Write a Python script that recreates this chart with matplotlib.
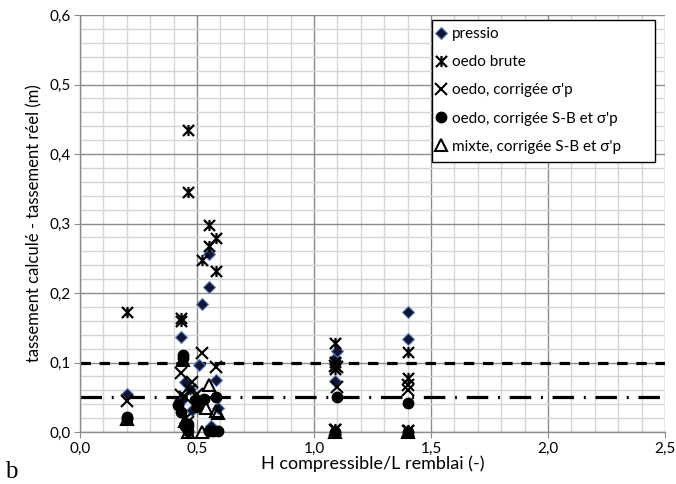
import matplotlib
matplotlib.use("Agg")
import matplotlib.pyplot as plt
from matplotlib.path import Path
from matplotlib.patches import Rectangle
from matplotlib.ticker import MultipleLocator, FuncFormatter

# ---- data ----
pressio_x = [0.20, 0.43, 0.43, 0.45, 0.47, 0.48, 0.51, 0.52, 0.55, 0.55, 0.58, 0.59, 0.56, 1.09, 1.10, 1.09, 1.09, 1.40, 1.40, 1.40]
pressio_y = [0.055, 0.136, 0.044, 0.072, 0.062, 0.032, 0.096, 0.184, 0.209, 0.256, 0.075, 0.034, 0.008, 0.106, 0.117, 0.074, 0.000, 0.172, 0.134, 0.000]

brute_x = [0.20, 0.43, 0.43, 0.46, 0.46, 0.52, 0.55, 0.55, 0.58, 0.58, 0.45, 1.09, 1.09, 1.09, 1.40, 1.40, 1.09, 1.40]
brute_y = [0.172, 0.164, 0.160, 0.435, 0.346, 0.247, 0.298, 0.268, 0.279, 0.232, 0.020, 0.128, 0.101, 0.091, 0.115, 0.077, 0.005, 0.003]

corr_x = [0.20, 0.43, 0.43, 0.52, 0.58, 0.48, 0.47, 0.45, 0.46, 0.50, 1.09, 1.10, 1.10, 1.40, 1.40, 1.09, 1.40]
corr_y = [0.044, 0.085, 0.053, 0.113, 0.094, 0.072, 0.060, 0.050, 0.015, 0.055, 0.095, 0.093, 0.065, 0.068, 0.061, 0.003, 0.002]

sb_x = [0.20, 0.20, 0.44, 0.44, 0.42, 0.43, 0.49, 0.50, 0.53, 0.58, 0.45, 0.46, 0.46, 0.55, 0.57, 0.59, 1.10, 1.40, 1.09, 1.40]
sb_y = [0.022, 0.019, 0.111, 0.106, 0.039, 0.029, 0.046, 0.036, 0.048, 0.050, 0.008, 0.002, 0.012, 0.001, 0.001, 0.002, 0.050, 0.042, 0.000, 0.000]

mixte_x = [0.20, 0.44, 0.55, 0.54, 0.58, 0.59, 0.45, 0.52, 1.09, 1.40, 0.46]
mixte_y = [0.018, 0.104, 0.068, 0.034, 0.030, 0.028, 0.016, 0.000, 0.000, 0.000, 0.000]

seuil_haut = 0.10
seuil_bas = 0.05

series_labels = ["pressio", "oedo brute", "oedo, corrigée σ'p",
                 "oedo, corrigée S-B et σ'p", "mixte, corrigée S-B et σ'p"]
x_label = "H compressible/L remblai (-)"
y_label = "tassement calculé - tassement réel (m)"

# ---- style ----
plt.rcParams['font.family'] = ['Lato', 'DejaVu Sans']
plt.rcParams['lines.scale_dashes'] = False

W, H = 676, 484
fig = plt.figure(figsize=(W/100, H/100), dpi=100)
ax = fig.add_axes([80/W, 1-432/H, (665-80)/W, (432-15)/H])

ax.set_xlim(0, 2.5)
ax.set_ylim(0, 0.6)
ax.xaxis.set_major_locator(MultipleLocator(0.5))
ax.xaxis.set_minor_locator(MultipleLocator(0.1))
ax.yaxis.set_major_locator(MultipleLocator(0.1))
ax.yaxis.set_minor_locator(MultipleLocator(0.02))
fmt = FuncFormatter(lambda v, p: f"{v:.1f}".replace('.', ','))
ax.xaxis.set_major_formatter(fmt)
ax.yaxis.set_major_formatter(fmt)

ax.grid(which='major', color='#8c8c8c', lw=1.0)
ax.grid(which='minor', color='#d4d4d4', lw=1.0)
ax.set_axisbelow(True)
for s in ['top', 'right']:
    ax.spines[s].set_visible(False)
for s in ['left', 'bottom']:
    ax.spines[s].set_color('#8c8c8c')
    ax.spines[s].set_linewidth(1.0)
ax.tick_params(which='major', length=4, color='#8c8c8c', labelsize=11, pad=3)
ax.tick_params(which='minor', length=0)

# threshold lines
ax.axhline(seuil_haut, color='black', lw=2.3, linestyle=(0, (7.5, 6.3)), zorder=2)
ax.axhline(seuil_bas, color='black', lw=2.3, linestyle=(0, (15.5, 7.0, 1.4, 7.0)), zorder=2)

# custom "star" marker (X with vertical stroke)
brute_marker = Path(
    [(-1, -1), (1, 1), (-1, 1), (1, -1), (0, -1), (0, 1)],
    [Path.MOVETO, Path.LINETO, Path.MOVETO, Path.LINETO, Path.MOVETO, Path.LINETO])

ax.plot(pressio_x, pressio_y, linestyle='none', marker='D', ms=6.0,
        mfc='#141432', mec='#5b82c0', mew=0.8, label=series_labels[0], clip_on=False, zorder=3)
ax.plot(brute_x, brute_y, linestyle='none', marker=brute_marker, ms=8,
        mfc='none', mec='black', mew=1.6, label=series_labels[1], clip_on=False, zorder=3)
ax.plot(corr_x, corr_y, linestyle='none', marker='x', ms=8,
        mec='black', mew=1.5, label=series_labels[2], clip_on=False, zorder=3)
ax.plot(sb_x, sb_y, linestyle='none', marker='o', ms=7.5,
        mfc='black', mec='black', label=series_labels[3], clip_on=False, zorder=3)
ax.plot(mixte_x, mixte_y, linestyle='none', marker='^', ms=8,
        mfc='none', mec='black', mew=1.5, label=series_labels[4], clip_on=False, zorder=3)

ax.set_xlabel(x_label, fontsize=13, labelpad=0)
ax.set_ylabel(y_label, fontsize=12, labelpad=5)

# legend frame (fixed box as in the original) and entries
fig.patches.append(Rectangle((432/W, 1-162/H), (655-432)/W, (162-20)/H,
                             transform=fig.transFigure, facecolor='white',
                             edgecolor='black', lw=1.0, zorder=4))
leg = fig.legend(*ax.get_legend_handles_labels(), loc='upper left',
                 bbox_to_anchor=(436/W, 1-27/H), fontsize=11, frameon=False,
                 handlelength=0.6, handletextpad=0.45, labelspacing=0.93,
                 borderpad=0, borderaxespad=0)
leg.set_zorder(5)

fig.text(5/W, 1-478/H, 'b', fontsize=18, family='Liberation Serif')

fig.savefig('out.png', dpi=100)
